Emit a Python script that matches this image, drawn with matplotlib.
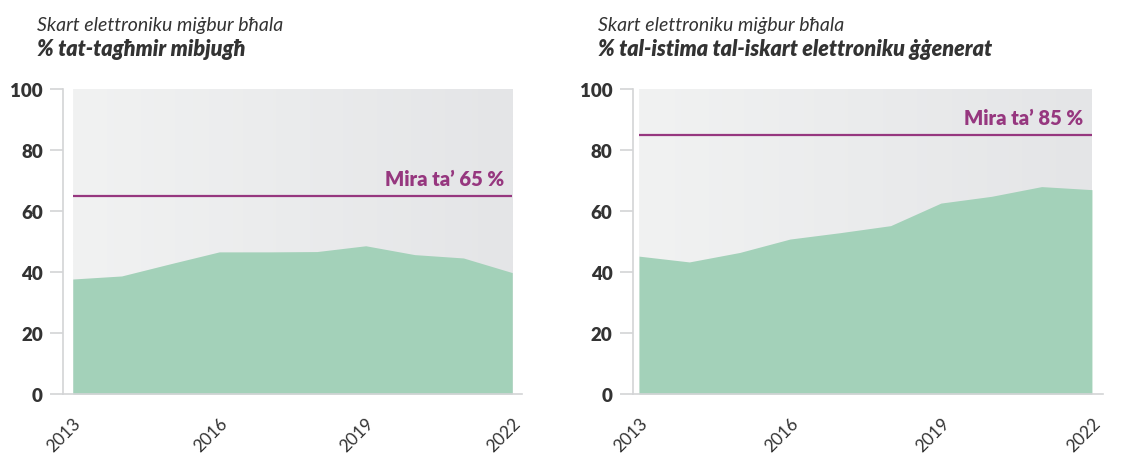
import numpy as np
import matplotlib.pyplot as plt

# values (percent)
years = [2013, 2014, 2015, 2016, 2017, 2018, 2019, 2020, 2021, 2022]
collected_pct = [37.7, 38.7, 42.7, 46.6, 46.6, 46.7, 48.6, 45.7, 44.6, 39.8]
generated_pct = [45.2, 43.3, 46.4, 50.8, 52.9, 55.2, 62.6, 64.8, 68.0, 67.0]
targets = [65, 85]
subtitles = ["% tat-tagħmir mibjugħ", "% tal-istima tal-iskart elettroniku ġġenerat"]
target_labels = ["Mira ta\u2019 65 %", "Mira ta\u2019 85 %"]
year_ticks = [2013, 2016, 2019, 2022]
y_ticks = [0, 20, 40, 60, 80, 100]

GREEN = "#a3d1b9"
PURPLE = "#96377f"
TEXT = "#333333"
AXIS = "#d3d4d6"

plt.rcParams['font.family'] = ['Lato', 'DejaVu Sans']

fig = plt.figure(figsize=(11.24, 4.56), dpi=100)
W, H = 1124, 456

# axes boxes in pixels: spine x, right end x, then x limits
boxes = [(63, 522, 2012.80, 2022.20), (632.7, 1103, 2012.875, 2022.22)]
series = [collected_pct, generated_pct]
title_x = [37, 598]

# horizontal grey gradient for the background
grad = np.linspace(0, 1, 256).reshape(1, -1)
c0 = np.array([241, 242, 242]) / 255
c1 = np.array([228, 229, 231]) / 255
grad_img = c0[None, None, :] * (1 - grad[..., None]) + c1[None, None, :] * grad[..., None]

for i in range(2):
    x0, x1, lo, hi = boxes[i]
    ax = fig.add_axes([x0 / W, 1 - 395 / H, (x1 - x0) / W, (395 - 90) / H])
    ax.set_xlim(lo, hi)
    ax.set_ylim(0, 100)
    ax.imshow(grad_img, extent=[years[0], years[-1], 0, 100], aspect='auto', zorder=0)
    ax.fill_between(years, 0, series[i], color=GREEN, linewidth=0, zorder=1)
    ax.hlines(targets[i], years[0], years[-1], color=PURPLE, linewidth=1.6, zorder=2)
    ax.text(years[-1] - 0.17, targets[i] + 2.6, target_labels[i], color=PURPLE,
            fontsize=14.5, fontweight='heavy', ha='right', va='bottom')

    for s in ['top', 'right']:
        ax.spines[s].set_visible(False)
    ax.spines['left'].set_color(AXIS)
    ax.spines['bottom'].set_color(AXIS)
    ax.spines['left'].set_linewidth(1.2)
    ax.spines['bottom'].set_linewidth(1.2)

    ax.set_yticks(y_ticks)
    ax.tick_params(axis='y', length=9.5, width=1.2, color=AXIS, pad=5,
                   labelsize=13.5, labelcolor=TEXT)
    for lab in ax.get_yticklabels():
        lab.set_fontweight('heavy')
    ax.set_xticks(year_ticks)
    ax.set_xticklabels([str(y) for y in year_ticks], rotation=45, ha='right',
                       rotation_mode='anchor', fontsize=12.5, color=TEXT)
    ax.tick_params(axis='x', length=0, pad=15)

    fig.text(title_x[i] / W, 1 - 31 / H, "Skart elettroniku miġbur bħala",
             fontsize=14, style='italic', color=TEXT)
    fig.text(title_x[i] / W, 1 - 56 / H, subtitles[i],
             fontsize=15.5, style='italic', fontweight='heavy', color=TEXT)

fig.savefig("out.png", dpi=100)
